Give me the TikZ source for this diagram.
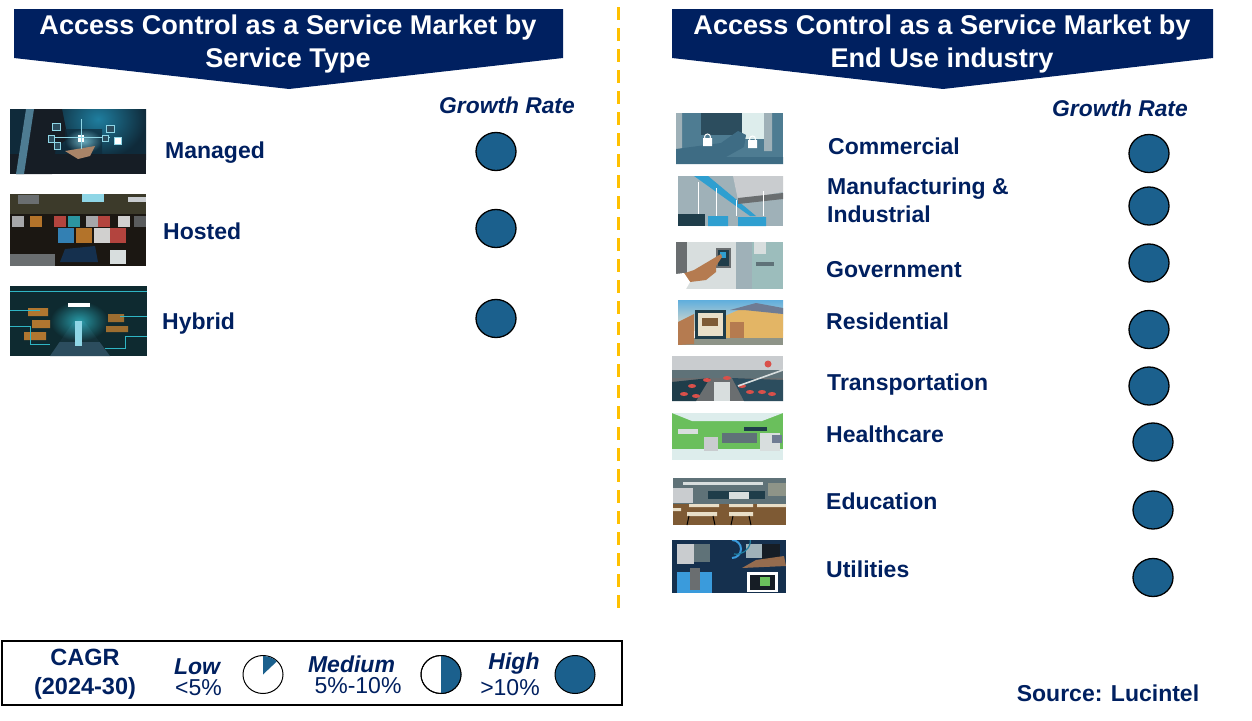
\documentclass[tikz,border=0pt]{standalone}
\usepackage{fontspec}
\usetikzlibrary{shapes.geometric}
\setmainfont{Liberation Sans}
\definecolor{navy}{HTML}{002060}
\definecolor{ball}{HTML}{1B608D}
\definecolor{gold}{HTML}{FFC000}
\definecolor{pa}{HTML}{0F2A3A}
\definecolor{pb}{HTML}{1F7E9F}
\definecolor{pc}{HTML}{161D25}
\definecolor{pd}{HTML}{8FD6E6}
\definecolor{pe}{HTML}{A98468}
\definecolor{pf}{HTML}{1B1712}
\definecolor{pg}{HTML}{3C3A2A}
\definecolor{ph}{HTML}{0E2A30}
\definecolor{pi}{HTML}{2FB5C4}
\definecolor{pj}{HTML}{D98A30}
\definecolor{pk}{HTML}{4E7C92}
\definecolor{pl}{HTML}{2C4D5E}
\definecolor{pm}{HTML}{3E6C84}
\definecolor{pn}{HTML}{9FB1B8}
\definecolor{po}{HTML}{2F9FD0}
\definecolor{pp}{HTML}{D8DEDE}
\definecolor{pq}{HTML}{9CBDBC}
\definecolor{pr}{HTML}{B57B50}
\definecolor{ps}{HTML}{5FAEDD}
\definecolor{pt}{HTML}{E3B565}
\definecolor{pu}{HTML}{6F7C93}
\definecolor{pv}{HTML}{8E9488}
\definecolor{pw}{HTML}{C9CCCF}
\definecolor{px}{HTML}{6A6E70}
\definecolor{py}{HTML}{D9504A}
\definecolor{pz}{HTML}{6ABF5C}
\definecolor{qa}{HTML}{DDEDEC}
\definecolor{qb}{HTML}{5F7278}
\definecolor{qc}{HTML}{7E5A34}
\definecolor{qd}{HTML}{E9DFC8}
\definecolor{qe}{HTML}{1F3D4A}
\definecolor{qf}{HTML}{15304E}
\definecolor{qg}{HTML}{3A9BDC}
\tikzset{
  banner/.style={fill=navy,draw=none},
  bannertext/.style={text=white,font=\fontsize{27.1}{33}\selectfont\bfseries,align=center,inner sep=0},
  item/.style={text=navy,font=\fontsize{23}{28}\selectfont\bfseries,anchor=west,inner sep=0,align=left},
  rate/.style={text=navy,font=\fontsize{22.8}{26}\selectfont\bfseries\itshape,inner sep=0},
  dot/.style={ellipse,draw=black,line width=1.3pt,fill=ball,minimum width=40,minimum height=38,inner sep=0},
  legendb/.style={text=navy,font=\fontsize{23}{26}\selectfont\bfseries\itshape,inner sep=0},
  legendn/.style={text=navy,font=\fontsize{23}{26}\selectfont,inner sep=0}
}
\begin{document}
\begin{tikzpicture}[x=1pt,y=-1pt]
\useasboundingbox (0,0) rectangle (1252,720);
\fill[white] (0,0) rectangle (1252,720);
% banners
\fill[banner] (14,9) -- (563,9) -- (563,58) -- (289,89) -- (14,58) -- cycle;
\fill[banner] (672,9) -- (1213,9) -- (1213,58) -- (943,89) -- (672,58) -- cycle;
\node[bannertext] (t1) at (288,43.5) {Access Control as a Service Market by\\Service Type};
\node[bannertext] (t2) at (942,43.5) {Access Control as a Service Market by\\End Use industry};
% divider
\draw[gold,line width=3pt,dash pattern=on 12.7pt off 8.3pt] (618,7) -- (618,608);
% Growth
\node[rate] (g1) at (507,105) {Growth Rate};
\node[rate] (g2) at (1120,108) {Growth Rate};
% left items
\node[item] (m) at (165,153) {Managed};
\node[item] (ho) at (163,231) {Hosted};
\node[item] (hy) at (162,324) {Hybrid};
\node[dot] (d1) at (496,151.5) {};
\node[dot] (d2) at (496,228.5) {};
\node[dot] (d3) at (496,318.5) {};
% right items
\node[item] (r1) at (828,146) {Commercial};
\node[item] (r2) at (827,200) {Manufacturing \&\\Industrial};
\node[item] (r3) at (826,270) {Government};
\node[item] (r4) at (826,321) {Residential};
\node[item] (r5) at (827,385) {Transportation};
\node[item] (r6) at (826,434) {Healthcare};
\node[item] (r7) at (826,501) {Education};
\node[item] (r8) at (826,569) {Utilities};
\node[dot] (e1) at (1149,153.5) {};
\node[dot] (e2) at (1149,206) {};
\node[dot] (e3) at (1149,263) {};
\node[dot] (e4) at (1149,329.5) {};
\node[dot] (e5) at (1149,386) {};
\node[dot] (e6) at (1153,442) {};
\node[dot] (e7) at (1153,510) {};
\node[dot] (e8) at (1153,577.5) {};
% photos: left
\begin{scope}[shift={(10,109)}]
\clip (0,0) rectangle (136,65);
\fill[pa] (0,0) rectangle (136,65);
\shade[inner color=pb,outer color=pa] (40,-30) rectangle (136,50);
\fill[pc] (0,45) rectangle (136,65);
\fill[pc] (16,0) -- (52,0) -- (58,30) -- (46,38) -- (42,65) -- (6,65) -- cycle;
\fill[pk] (16,0) -- (24,0) -- (14,65) -- (6,65) -- cycle;
\shade[inner color=pd,outer color=pa,opacity=.7] (55,20) rectangle (92,44);
\fill[pe] (55,42) -- (85,37) -- (80,47) -- (68,50) -- cycle;
\fill[white] (68,26) rectangle (74,33);
\draw[pd,line width=.7pt] (40,28) -- (100,28) (71,10) -- (71,40);
\draw[pd,fill=pl] (42,14) rectangle (50,21) (38,26) rectangle (44,33) (44,33) rectangle (50,40) (96,16) rectangle (104,23) (92,26) rectangle (98,32);
\fill[white,draw=pd] (104,28) rectangle (111,35);
\end{scope}
\begin{scope}[shift={(10,194)}]
\clip (0,0) rectangle (136,72);
\fill[pf] (0,0) rectangle (136,72);
\fill[pg] (0,0) rectangle (136,20);
\fill[px] (8,1) rectangle (29,10);
\fill[pd] (72,0) rectangle (94,8);
\fill[pw] (118,3) rectangle (136,8);
\foreach \x/\c in {2/pw,20/pj,44/py,58/pi,76/pw,88/py,108/white,124/px}{\fill[\c,opacity=.8] (\x,22) rectangle +(12,11);}
\foreach \x/\c in {48/qg,66/pj,84/white,100/py}{\fill[\c,opacity=.8] (\x,34) rectangle +(16,15);}
\fill[qf] (55,55) -- (85,52) -- (88,68) -- (50,68) -- cycle;
\fill[pp] (100,56) rectangle (116,70);
\fill[px] (0,60) rectangle (45,72);
\end{scope}
\begin{scope}[shift={(10,286)}]
\clip (0,0) rectangle (137,70);
\fill[ph] (0,0) rectangle (137,70);
\fill[pl] (40,70) -- (100,70) -- (74,35) -- (64,35) -- cycle;
\shade[inner color=pi,outer color=ph,opacity=.8] (40,15) rectangle (98,55);
\fill[pd] (65,35) rectangle (72,60);
\fill[white] (58,17) rectangle (80,21);
\fill[pj,opacity=.8] (18,22) rectangle (38,30) (22,34) rectangle (40,42) (14,46) rectangle (36,54);
\fill[pj,opacity=.7] (98,28) rectangle (114,36) (96,40) rectangle (118,46);
\draw[pi,line width=1pt] (0,24) -- (30,24) (0,40) -- (20,40) -- (20,58) -- (40,58) (137,30) -- (110,30) (137,50) -- (115,50) -- (115,62) -- (95,62) (0,5) -- (137,5);
\end{scope}
% photos: right
\begin{scope}[shift={(676,113)}]
\clip (0,0) rectangle (107,51);
\fill[pk] (0,0) rectangle (107,51);
\fill[pl] (25,0) rectangle (72,22);
\fill[pn] (0,0) rectangle (6,38) (88,0) rectangle (96,38);
\fill[qa] (66,0) rectangle (88,26);
\fill[pm] (0,36) -- (45,30) -- (62,18) -- (70,22) -- (68,34) -- (50,44) -- (107,44) -- (107,51) -- (0,51) -- cycle;
\fill[white] (27,25) rectangle (36,33) (72,27) rectangle (81,35);
\draw[white,line width=1pt] (31.5,24) circle (3) (76.5,26) circle (3);
\end{scope}
\begin{scope}[shift={(678,176)}]
\clip (0,0) rectangle (105,50);
\fill[pn] (0,0) rectangle (105,50);
\fill[pw] (55,0) -- (105,0) -- (105,16) -- (60,24) -- cycle;
\fill[po] (16,0) -- (30,0) -- (78,40) -- (72,40) -- cycle;
\fill[px] (60,22) -- (105,17) -- (105,23) -- (60,28) -- cycle;
\fill[qe] (0,38) rectangle (27,50);
\fill[po] (30,40) rectangle (50,50) (60,41) rectangle (88,50);
\draw[white,line width=.8pt] (20,6) -- (20,38) (38,12) -- (38,40) (58,24) -- (58,40) (85,15) -- (85,40);
\end{scope}
\begin{scope}[shift={(676,242)}]
\clip (0,0) rectangle (107,47);
\fill[pp] (0,0) rectangle (107,47);
\fill[px] (0,0) rectangle (11,33);
\fill[pn] (60,0) rectangle (76,47);
\fill[pq] (76,0) rectangle (107,47);
\fill[pp] (78,0) rectangle (90,12);
\fill[px] (40,6) rectangle (55,26);
\fill[qe] (42,8) rectangle (53,24);
\fill[po] (44,10) rectangle (50,16);
\fill[pr] (6,32) -- (18,28) -- (45,12) -- (46,15) -- (40,24) -- (40,30) -- (30,38) -- (14,40) -- cycle;
\fill[white] (0,32) -- (8,31) -- (14,40) -- (10,47) -- (0,47) -- cycle;
\fill[qb] (80,20) rectangle (98,24);
\end{scope}
\begin{scope}[shift={(678,300)}]
\clip (0,0) rectangle (105,45);
\shade[top color=ps,bottom color=qd] (0,0) rectangle (105,30);
\fill[pt] (38,20) -- (65,8) -- (105,14) -- (105,38) -- (38,38) -- cycle;
\fill[pu] (52,10) -- (78,3) -- (105,8) -- (105,14) -- (66,10) -- cycle;
\fill[pv] (0,38) rectangle (105,45);
\fill[pr] (0,22) -- (16,14) -- (16,44) -- (0,45) -- cycle;
\fill[qe] (17,10) rectangle (48,39);
\fill[qd] (20,13) rectangle (45,36);
\fill[qc] (24,18) rectangle (40,26);
\fill[pr] (52,22) rectangle (66,38);
\end{scope}
\begin{scope}[shift={(672,356)}]
\clip (0,0) rectangle (111,45);
\fill[px] (0,0) rectangle (111,45);
\fill[pw] (0,0) rectangle (111,14);
\fill[qb] (0,14) rectangle (111,22);
\fill[qe] (0,26) -- (38,22) -- (24,45) -- (0,45) -- cycle;
\fill[pl] (60,22) -- (111,24) -- (111,45) -- (72,45) -- cycle;
\fill[pp] (42,26) rectangle (58,45);
\foreach \x/\y in {20/30,35/24,55/22,70/30,78/36,90/36,100/38,12/38,24/40}{\fill[py] (\x,\y) ellipse (4 and 2);}
\draw[pp,line width=1.6pt] (66,30) -- (111,14);
\fill[py] (96,8) circle (3.5);
\end{scope}
\begin{scope}[shift={(672,413)}]
\clip (0,0) rectangle (111,47);
\fill[pz] (0,0) rectangle (111,36);
\fill[qa] (0,0) -- (111,0) -- (90,8) -- (20,8) -- cycle;
\fill[qa] (0,36) rectangle (111,47);
\fill[qb] (50,20) rectangle (85,30);
\fill[pw] (32,24) rectangle (46,38);
\fill[pp] (88,20) rectangle (108,38);
\fill[qe] (72,14) rectangle (95,18);
\fill[pu] (100,22) rectangle (110,30);
\fill[pp] (6,16) rectangle (26,21);
\end{scope}
\begin{scope}[shift={(673,478)}]
\clip (0,0) rectangle (113,47);
\fill[qb] (0,0) rectangle (113,47);
\fill[pp] (10,4) rectangle (90,7);
\fill[qe] (35,13) rectangle (92,21);
\fill[pp] (56,14) rectangle (76,21);
\fill[pw] (0,10) rectangle (20,25);
\fill[pv] (95,5) rectangle (113,18);
\fill[qc] (0,26) rectangle (113,47);
\fill[qd] (16,26) rectangle (46,29) (56,26) rectangle (80,29) (84,26) rectangle (113,29) (14,34) rectangle (44,38) (56,34) rectangle (80,38) (0,30) rectangle (8,33);
\draw[black,line width=1pt] (16,38) -- (14,47) (40,38) -- (42,47) (60,38) -- (58,47) (76,38) -- (78,47);
\end{scope}
\begin{scope}[shift={(672,540)}]
\clip (0,0) rectangle (114,53);
\fill[qf] (0,0) rectangle (114,53);
\fill[pw] (5,4) rectangle (22,24);
\fill[qb] (22,4) rectangle (38,22);
\fill[qg] (5,32) rectangle (40,53);
\fill[px] (18,28) rectangle (28,50);
\fill[pn] (74,4) rectangle (92,18);
\fill[pc] (90,4) rectangle (108,20);
\fill[pr,opacity=.8] (84,20) -- (112,16) -- (114,26) -- (70,28) -- cycle;
\fill[white] (75,32) rectangle (106,52);
\fill[pc] (78,35) rectangle (103,50);
\fill[pz] (88,37) rectangle (98,46);
\draw[qg,line width=2pt] (60,18) arc (-90:-270:-9);
\draw[pb,line width=1.2pt] (62,14) arc (-80:-280:-14);
\end{scope}
% legend
\node[draw=black,line width=1.6pt,minimum width=620,minimum height=64,inner sep=0,anchor=north west] (box) at (1,640) {};
\node[text=navy,font=\fontsize{23.5}{29}\selectfont\bfseries,align=center,inner sep=0] (cagr) at (85,674) {CAGR\\(2024-30)};
\node[legendb] (lo) at (197,667) {Low};
\node[legendn] (lo2) at (198.5,688) {<5\%};
\node[legendb] (me) at (351.5,664) {Medium};
\node[legendn] (me2) at (358,686) {5\%-10\%};
\node[legendb] (hi) at (514,664) {High};
\node[legendn] (hi2) at (510,688) {>10\%};
\node[ellipse,draw=black,line width=1pt,fill=white,minimum width=40,minimum height=38,inner sep=0] (c1) at (263,674.5) {};
\fill[ball] (263,674.5) -- (263,656) arc (-90:-45:19.5 and 18.5) -- cycle;
\node[ellipse,draw=black,line width=1pt,fill=white,minimum width=40,minimum height=38,inner sep=0] (c2) at (441,674.5) {};
\fill[ball] (441,655.5) arc (-90:90:20 and 19) -- cycle;
\node[ellipse,draw=black,line width=1pt,minimum width=40,minimum height=38,inner sep=0] (c2b) at (441,674.5) {};
\node[dot,line width=1pt] (c3) at (575,674.5) {};
\node[text=navy,font=\fontsize{23}{26}\selectfont\bfseries,inner sep=0] (src) at (1108,693) {Source: Lucintel};
\end{tikzpicture}
\end{document}
